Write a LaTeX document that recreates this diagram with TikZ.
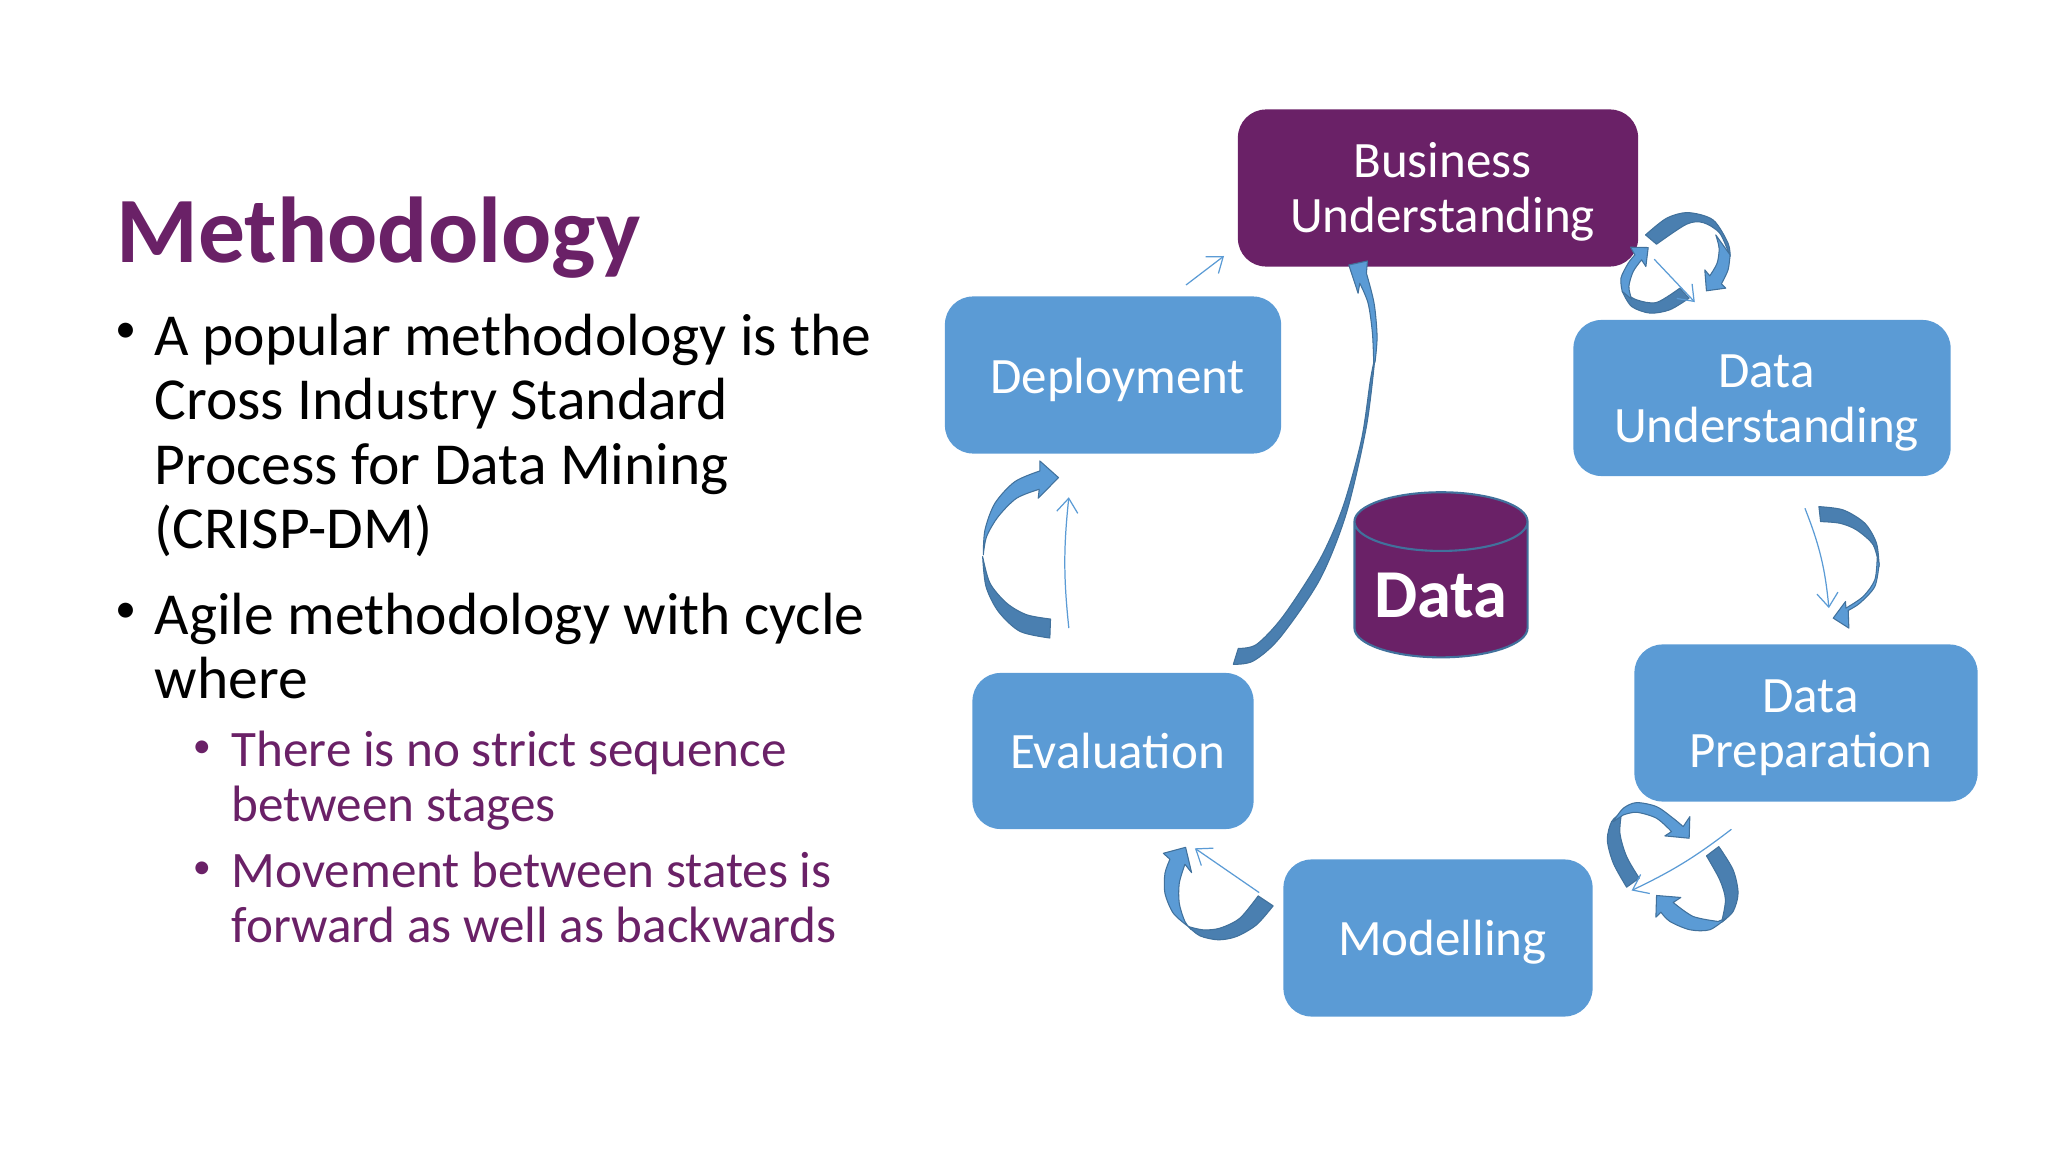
\documentclass[tikz,border=0pt]{standalone}
\usepackage{fontspec}
\setmainfont{Carlito}
\usetikzlibrary{arrows.meta,positioning,shapes.geometric}
\definecolor{slidepurple}{HTML}{6A2167}
\definecolor{boxblue}{HTML}{5B9BD5}
\definecolor{edgeblue}{HTML}{41719C}
\definecolor{shadeblue}{HTML}{4A7FB0}
\newcommand{\pad}{\hspace*{2.6pt}}
\newcommand{\drop}[1]{\rule{0pt}{#1}}

\begin{document}
\begin{tikzpicture}[
  x=0.01cm, y=-0.01cm,
  box/.style={rectangle, rounded corners=8pt, fill=boxblue, text=white, align=center, font=\fontsize{14.5}{15.7}\selectfont, inner sep=0pt},
  current/.style={box, fill=slidepurple},
  toptext/.style={anchor=north west, inner sep=0pt, align=left, text=black, font=\fontsize{16.94}{18.35}\selectfont},
  subtext/.style={anchor=north west, inner sep=0pt, align=left, text=slidepurple, font=\fontsize{14.54}{15.7}\selectfont},
  topdot/.style={anchor=center, inner sep=0pt, text=black, font=\fontsize{12}{13}\selectfont},
  subdot/.style={anchor=center, inner sep=0pt, text=slidepurple, font=\fontsize{10.3}{11}\selectfont},
  zoomed/.style={x=0.003333cm, y=-0.003333cm},
  dark/.style={fill=shadeblue, draw=edgeblue, line width=0.3pt, line join=round},
  light/.style={fill=boxblue, draw=edgeblue, line width=0.3pt, line join=round},
  thin arrow/.style={-{Straight Barb[length=4pt,width=6pt]}, draw=boxblue, line width=0.35pt}
]
\useasboundingbox (0,0) rectangle (2048,1152);

% Left text
\node[anchor=north west, inner sep=0pt, text=slidepurple, font=\fontsize{26.6}{28}\selectfont\bfseries] (title) at (116,196) {Methodology};
\node[topdot] (dota) at (126,333) {•};
\node[toptext] (crisp) at (154,313) {A popular methodology is the\\Cross Industry Standard\\Process for Data Mining\\(CRISP-DM)};
\node[topdot] (dotb) at (126,613) {•};
\node[toptext] (agile) at (154,592) {Agile methodology with cycle\\where};
\node[subdot] (dotc) at (202,749) {•};
\node[subtext] (strict) at (231,730) {There is no strict sequence\\between stages};
\node[subdot] (dotd) at (202,870) {•};
\node[subtext] (moves) at (231,851) {Movement between states is\\forward as well as backwards};

% Stages
\node[current, minimum width=4cm, minimum height=1.57cm] (business) at (1438,188) {\drop{12.2pt}\pad Business\\\pad Understanding};
\node[box, minimum width=3.77cm, minimum height=1.56cm] (understanding) at (1762,398) {\drop{12.2pt}\pad Data\\\pad Understanding};
\node[box, minimum width=3.43cm, minimum height=1.57cm] (preparation) at (1806,723) {\drop{11.8pt}\pad Data\\\pad Preparation};
\node[box, minimum width=3.09cm, minimum height=1.57cm] (modelling) at (1438,938) {\drop{12.6pt}\pad Modelling};
\node[box, minimum width=2.81cm, minimum height=1.56cm] (evaluation) at (1113,751) {\pad Evaluation};
\node[box, minimum width=3.36cm, minimum height=1.57cm] (deployment) at (1113,375) {\drop{13pt}\pad Deployment};

% Data store
\node[cylinder, shape border rotate=90, aspect=0.44, draw=edgeblue, line width=0.6pt, fill=slidepurple, text=white, minimum width=1.73cm, minimum height=1.65cm, inner sep=0pt, font=\fontsize{19.5}{21}\selectfont\bfseries] (data) at (1441,590) {\drop{16pt}Data};

% Business to data understanding
\begin{scope}[shift={(1560,180)}, zoomed]
\draw[dark] plot[smooth] coordinates {(257,165) (320,115) (385,98) (460,120) (505,190) (511,230)} -- plot[smooth] coordinates {(511,230) (480,160) (430,128) (380,133) (290,193)} -- cycle;
\draw[light] plot[smooth] coordinates {(511,225) (505,270) (485,312)} -- (498,325) -- (440,333) -- (435,270) -- (450,288) -- plot[smooth] coordinates {(450,288) (472,250) (478,205) (468,165)} -- cycle;
\draw[dark] plot[smooth] coordinates {(388,355) (330,390) (270,400) (215,380) (187,335)} -- plot[smooth] coordinates {(187,335) (230,360) (290,368) (360,325)} -- cycle;
\draw[light] plot[smooth] coordinates {(187,335) (183,295) (205,250) (225,225)} -- (212,202) -- (265,203) -- (258,260) -- (245,240) -- plot[smooth] coordinates {(245,240) (220,275) (207,320) (215,358)} -- cycle;
\coordinate (bustail) at (283,238);
\coordinate (bushead) at (405,367);
\end{scope}
\draw[thin arrow] (bustail) -- (bushead);

% Data understanding to preparation
\begin{scope}[shift={(1760,480)}, zoomed]
\draw[dark] plot[smooth] coordinates {(177,80) (250,90) (315,130) (350,190) (358,260)} -- plot[smooth] coordinates {(358,260) (340,195) (290,150) (240,130) (182,125)} -- cycle;
\draw[light] plot[smooth] coordinates {(358,250) (345,320) (300,370) (265,392)} -- (267,445) -- (220,415) -- (257,365) -- (258,385) -- plot[smooth] coordinates {(258,385) (310,350) (345,300) (352,235)} -- cycle;
\coordinate (undtail) at (135,85);
\coordinate (undhead) at (207,385);
\end{scope}
\draw[thin arrow] (undtail) to[bend left=8] (undhead);

% Preparation to modelling
\begin{scope}[shift={(1580,780)}, zoomed]
\draw[dark] plot[smooth] coordinates {(140,322) (100,250) (82,180) (95,125) (125,98)} -- plot[smooth] coordinates {(125,98) (120,160) (140,230) (178,295)} -- cycle;
\draw[light] plot[smooth] coordinates {(100,125) (130,85) (170,68) (230,80) (280,115) (310,140)} -- (330,110) -- (328,175) -- (255,168) -- (275,155) -- plot[smooth] coordinates {(275,155) (230,115) (170,97) (130,105)} -- cycle;
\draw[dark] plot[smooth] coordinates {(417,200) (460,270) (475,340) (460,395) (425,428)} -- plot[smooth] coordinates {(425,428) (437,360) (420,300) (380,228)} -- cycle;
\draw[light] plot[smooth] coordinates {(440,415) (390,450) (330,450) (270,425) (243,397)} -- (228,412) -- (230,347) -- (303,353) -- (280,368) -- plot[smooth] coordinates {(280,368) (340,410) (415,425)} -- cycle;
\coordinate (pretail) at (455,148);
\coordinate (prehead) at (155,332);
\end{scope}
\draw[thin arrow] (pretail) to[bend left=6] (prehead);

% Modelling to evaluation
\begin{scope}[shift={(1140,830)}, zoomed]
\draw[dark] plot[smooth] coordinates {(400,228) (350,285) (290,320) (235,330) (180,318) (145,290)} -- plot[smooth] coordinates {(145,290) (190,300) (240,295) (300,265) (355,198)} -- cycle;
\draw[light] plot[smooth] coordinates {(145,290) (100,250) (75,190) (75,130) (90,88)} -- (70,70) -- (137,52) -- (155,128) -- (135,103) -- plot[smooth] coordinates {(135,103) (118,160) (118,220) (135,275) (155,300)} -- cycle;
\coordinate (modtail) at (358,188);
\coordinate (modhead) at (165,55);
\end{scope}
\draw[thin arrow] (modtail) -- (modhead);

% Evaluation to deployment
\begin{scope}[shift={(960,440)}, zoomed]
\draw[dark] plot[smooth] coordinates {(270,595) (180,575) (115,515) (78,440) (68,350)} -- plot[smooth] coordinates {(68,350) (90,430) (140,490) (200,525) (272,538)} -- cycle;
\draw[light] plot[smooth] coordinates {(70,345) (75,270) (105,190) (165,125) (240,93)} -- (240,63) -- (296,113) -- (235,175) -- (238,148) -- plot[smooth] coordinates {(238,148) (170,175) (115,230) (80,290) (70,345)} -- cycle;
\coordinate (evatail) at (327,565);
\coordinate (evahead) at (327,172);
\end{scope}
\draw[thin arrow] (evatail) to[bend left=6] (evahead);

% Evaluation back to business
\begin{scope}[shift={(1220,250)}, zoomed]
\draw[dark] plot[smooth] coordinates {(40,1245) (100,1235) (180,1165) (300,990) (380,790) (440,530) (466,320)} -- plot[smooth] coordinates {(466,320) (452,390) (425,570) (370,770) (300,930) (190,1100) (110,1185) (55,1197)} -- cycle;
\draw[light] plot[smooth] coordinates {(466,335) (472,260) (463,160) (440,70)} -- (443,33) -- (387,45) -- (415,130) -- (420,100) -- plot[smooth] coordinates {(420,100) (445,160) (458,250) (462,345)} -- cycle;
\end{scope}

% Deployment to business
\coordinate (deptail) at (1186,285);
\coordinate (dephead) at (1224,256);
\draw[thin arrow] (deptail) -- (dephead);

\end{tikzpicture}
\end{document}
